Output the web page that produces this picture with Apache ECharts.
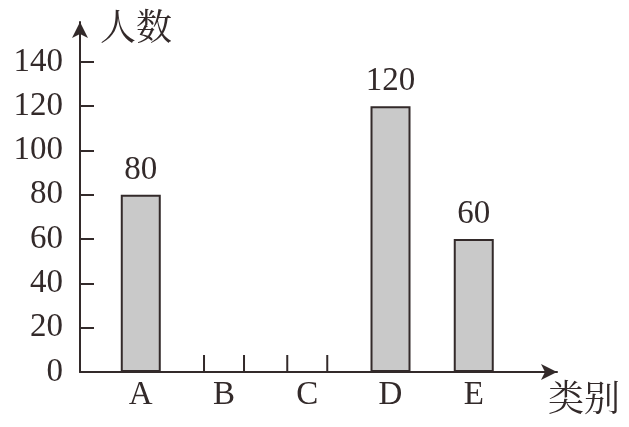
<!DOCTYPE html>
<html>
<head>
<meta charset="utf-8">
<script src="https://cdn.jsdelivr.net/npm/echarts@6/dist/echarts.min.js"></script>
<style>
  html, body { margin: 0; padding: 0; background: #fff; }
  #chart { width: 629px; height: 427px; }
</style>
</head>
<body>
<div id="chart"></div>
<script>
// Survey results: number of people in each category
const categories = ['A', 'B', 'C', 'D', 'E'];
const counts = [80, null, null, 120, 60];       // B and C left blank
const blankCategories = ['B', 'C'];             // bars still to be drawn in
const yTicks = [0, 20, 40, 60, 80, 100, 120, 140];

const ink = '#332a2a';
const serif = '"Liberation Serif", "Noto Serif CJK SC", "Noto Sans CJK SC", serif';

// position of each category on the numeric x axis: A = 1, B = 2, ...
const barData = categories.map((c, i) => [i + 1, counts[i]]).filter(d => d[1] != null);
const blankData = blankCategories.map(c => [categories.indexOf(c) + 1, 0]);

const chart = echarts.init(document.getElementById('chart'));
chart.setOption({
  animation: false,
  backgroundColor: '#fff',
  grid: { left: 80, right: 72, top: 22, bottom: 55 },
  xAxis: {
    type: 'value',
    min: 0.27,
    max: 6.0,
    name: '类别',
    nameLocation: 'end',
    nameGap: -9,
    nameTextStyle: {
      fontFamily: serif, fontSize: 36, color: ink,
      align: 'left', verticalAlign: 'top', padding: [12, 0, 0, 0]
    },
    splitLine: { show: false },
    axisLine: {
      lineStyle: { color: ink, width: 2 },
      symbol: ['none', 'arrow'],
      symbolSize: [12, 16]
    },
    axisTick: { show: false },
    axisLabel: {
      customValues: categories.map((c, i) => i + 1),
      formatter: v => categories[Math.round(v) - 1] || '',
      fontFamily: serif, fontSize: 33, color: ink, margin: 7
    }
  },
  yAxis: {
    type: 'value',
    min: 0,
    max: 158,
    name: '人数',
    nameLocation: 'end',
    nameGap: -9,
    nameTextStyle: {
      fontFamily: serif, fontSize: 36, color: ink,
      align: 'left', verticalAlign: 'middle', padding: [0, 0, 0, 20]
    },
    splitLine: { show: false },
    axisLine: {
      show: true,
      lineStyle: { color: ink, width: 2 },
      symbol: ['none', 'arrow'],
      symbolSize: [12, 16]
    },
    axisTick: {
      show: true, inside: true, length: 14,
      customValues: yTicks,
      lineStyle: { color: ink, width: 2 }
    },
    axisLabel: {
      customValues: yTicks,
      fontFamily: serif, fontSize: 33, color: ink, margin: 17
    }
  },
  series: [
    {
      type: 'bar',
      data: barData,
      barWidth: 40,
      itemStyle: { color: '#c9c9c9', borderColor: ink, borderWidth: 2 },
      label: {
        show: true, position: 'top', distance: 8,
        fontFamily: serif, fontSize: 33, color: ink,
        formatter: p => p.value[1]
      }
    },
    {
      // open brackets marking the bars that are left blank
      type: 'custom',
      data: blankData,
      renderItem: (params, api) => {
        const p = api.coord([api.value(0), api.value(1)]);
        const half = 20, h = 17;
        return {
          type: 'polyline',
          shape: { points: [[p[0] - half, p[1] - h], [p[0] - half, p[1]], [p[0] + half, p[1]], [p[0] + half, p[1] - h]] },
          style: { stroke: ink, lineWidth: 2, fill: null }
        };
      }
    }
  ]
});
</script>
</body>
</html>
